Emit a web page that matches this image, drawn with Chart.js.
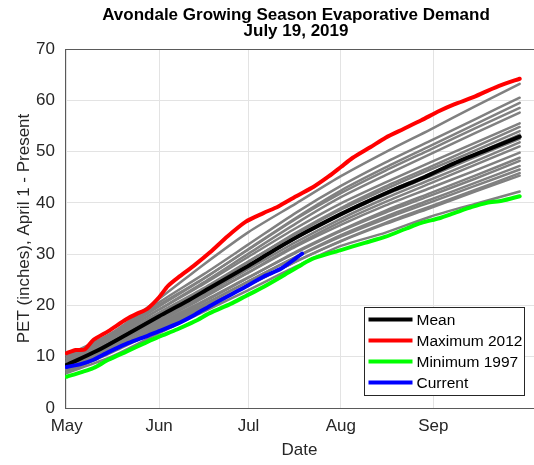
<!DOCTYPE html>
<html><head><meta charset="utf-8">
<script src="https://cdn.jsdelivr.net/npm/chart.js@4"></script>
<style>html,body{margin:0;padding:0;background:#fff;overflow:hidden}</style>
</head><body>
<canvas id="c" width="534" height="465" style="width:534px;height:465px"></canvas>
<script>
// ---- data (days counted from May 1) ----
const titleLines = ['Avondale Growing Season Evaporative Demand', 'July 19, 2019'];
const monthLabels = ['May', 'Jun', 'Jul', 'Aug', 'Sep'];
const monthDays = [0, 31, 61, 92, 123];
const yTickValues = [0, 10, 20, 30, 40, 50, 60, 70];

const meanDays = [0,10,20,31,40,48,60,70,80,92,100,110,120,130,140,152];
const meanValues = [8.4,11.1,14.3,17.9,20.7,23.4,27.4,30.9,34.2,37.8,40.0,42.6,45.0,47.7,50.1,52.9];

const maxDays = [0,3,6,9,14,20,24,27,31,34,38,43,48,54,60,66,71,77,83,88,92,96,102,107,113,119,125,130,136,141,146,152];
const maxValues = [10.7,11.3,11.4,13.3,15.0,17.3,18.5,19.3,21.6,23.8,25.7,27.9,30.3,33.5,36.3,38.0,39.3,41.3,43.2,45.2,47.0,48.8,50.9,52.7,54.4,56.1,57.9,59.2,60.5,61.8,63.0,64.2];

const minDays = [0,5,9,14,20,26,31,37,43,48,55,60,66,72,79,83,92,100,107,114,119,125,130,136,141,146,152];
const minValues = [6.1,7.0,7.8,9.4,11.0,12.6,13.9,15.3,16.9,18.5,20.3,21.8,23.6,25.6,28.0,29.2,30.8,32.2,33.4,35.0,36.1,37.0,38.0,39.2,40.0,40.4,41.3];

const currentDays = [0,5,9,14,20,26,31,37,43,49,58,66,72,79];
const currentValues = [8.0,8.6,9.4,10.9,12.5,13.8,15.0,16.4,18.2,20.2,23.0,25.6,27.2,30.1];

const otherYearDays = [0,15,31,46,61,77,92,107,122,137,152];
const otherYears = [
  [10.2,14.6,21.3,28.0,34.3,39.9,45.2,49.9,54.3,58.8,63.2],
  [9.8,14.3,20.6,26.1,31.9,38.1,43.3,47.9,52.1,56.3,60.5],
  [9.0,14.0,19.8,25.2,31.0,37.1,42.4,46.9,51.1,55.3,59.5],
  [9.6,14.4,20.1,25.3,30.9,36.9,41.9,46.3,50.4,54.5,58.5],
  [8.8,13.6,19.2,24.5,30.1,36.0,41.1,45.4,49.5,53.6,57.6],
  [9.3,13.9,19.2,24.2,29.5,35.1,39.9,44.0,47.9,51.7,55.5],
  [8.2,12.8,18.1,23.2,28.5,34.2,39.0,43.2,47.0,50.9,54.8],
  [9.0,13.4,18.6,23.4,28.6,34.0,38.7,42.7,46.5,50.2,54.0],
  [7.9,12.4,17.6,22.5,27.7,33.2,37.9,42.0,45.7,49.5,53.3],
  [8.6,12.9,18.0,22.7,27.7,33.1,37.6,41.6,45.2,48.9,52.5],
  [8.0,12.3,17.3,22.1,27.1,32.4,36.9,40.9,44.5,48.1,51.8],
  [7.6,11.9,16.9,21.5,26.5,31.8,36.3,40.2,43.8,47.4,51.0],
  [8.4,12.5,17.2,21.7,26.4,31.5,35.7,39.5,42.9,46.3,49.8],
  [7.4,11.5,16.2,20.7,25.4,30.5,34.7,38.5,41.9,45.3,48.8],
  [8.0,12.0,16.6,20.9,25.5,30.3,34.5,38.1,41.4,44.7,48.2],
  [7.2,11.2,15.8,20.1,24.7,29.5,33.7,37.3,40.6,43.9,47.2],
  [7.8,11.6,16.1,20.2,24.7,29.4,33.4,36.9,40.1,43.3,46.5],
  [7.0,10.8,15.3,19.4,23.9,28.6,32.6,36.1,39.3,42.5,45.8],
  [7.5,11.2,15.6,19.7,24.0,28.6,32.5,35.9,39.0,42.2,45.3],
  [6.8,10.0,14.6,18.8,23.0,27.6,31.6,34.2,37.3,39.8,42.2]
];

const legendLabels = ['Mean', 'Maximum 2012', 'Minimum 1997', 'Current'];

// ---- build datasets ----
const toPts = (xs, ys) => xs.map((x, i) => ({x: x, y: ys[i]}));
const FONT = '"Liberation Sans", Arial, Helvetica, sans-serif';
const datasets = [];
const mk = (label, xs, ys, color, width, order, legend) => ({
  label, data: toPts(xs, ys), borderColor: color, backgroundColor: color,
  borderWidth: width, pointRadius: 0, tension: 0.25, fill: false,
  order, showLegend: legend, borderCapStyle: 'round', borderJoinStyle: 'round'
});
datasets.push(mk(legendLabels[0], meanDays, meanValues, '#000000', 4, 1, true));
datasets.push(mk(legendLabels[1], maxDays, maxValues, '#ff0000', 4, 2, true));
datasets.push(mk(legendLabels[2], minDays, minValues, '#00ff00', 4, 3, true));
datasets.push(mk(legendLabels[3], currentDays, currentValues, '#0000ff', 4, 0, true));
otherYears.forEach((ys, i) => datasets.push(mk('year' + i, otherYearDays, ys, '#808080', 2.5, 10, false)));

const titlePlugin = {
  id: 'mTitle',
  afterDraw(chart) {
    const ctx = chart.ctx;
    ctx.save();
    ctx.fillStyle = '#000';
    ctx.font = 'bold 17px ' + FONT;
    ctx.textAlign = 'center';
    ctx.textBaseline = 'alphabetic';
    ctx.fillText(titleLines[0], 296, 19.5);
    ctx.fillText(titleLines[1], 296, 35.5);
    // top border of the box
    const ca = chart.chartArea;
    ctx.strokeStyle = '#5a5a5a';
    ctx.lineWidth = 1;
    ctx.beginPath();
    ctx.moveTo(ca.left, ca.top + 0.5);
    ctx.lineTo(ca.right, ca.top + 0.5);
    ctx.stroke();
    ctx.restore();
  }
};

const legendPlugin = {
  id: 'mLegend',
  afterDraw(chart) {
    const ctx = chart.ctx;
    const ca = chart.chartArea;
    const items = chart.data.datasets.filter(d => d.showLegend);
    const bx = ca.left + 299.5, by = ca.top + 258.5, bw = 160, bh = 88;
    ctx.save();
    ctx.fillStyle = '#fff';
    ctx.fillRect(bx, by, bw, bh);
    ctx.strokeStyle = '#262626';
    ctx.lineWidth = 1;
    ctx.strokeRect(bx, by, bw, bh);
    ctx.font = '15.5px ' + FONT;
    ctx.textBaseline = 'middle';
    ctx.textAlign = 'left';
    items.forEach((d, i) => {
      const y = by + 12 + i * 21;
      ctx.strokeStyle = d.borderColor;
      ctx.lineWidth = 4;
      ctx.lineCap = 'butt';
      ctx.beginPath();
      ctx.moveTo(bx + 4, y);
      ctx.lineTo(bx + 48, y);
      ctx.stroke();
      ctx.fillStyle = '#000';
      ctx.fillText(d.label, bx + 52, y + 1);
    });
    ctx.restore();
  }
};

new Chart(document.getElementById('c'), {
  type: 'line',
  data: { datasets },
  plugins: [titlePlugin, legendPlugin],
  options: {
    responsive: false,
    animation: false,
    layout: { padding: { top: 49, left: 0, right: 0, bottom: 0 } },
    plugins: { legend: { display: false }, tooltip: { enabled: false }, title: { display: false } },
    scales: {
      x: {
        type: 'linear', min: -0.57, max: 156.8,
        afterBuildTicks: s => { s.ticks = monthDays.map(v => ({ value: v })); },
        afterFit: s => { s.height = 57; },
        ticks: {
          autoSkip: false, maxRotation: 0, padding: 8,
          color: '#262626', font: { family: FONT, size: 17 },
          callback: v => monthLabels[monthDays.indexOf(v)]
        },
        grid: { color: '#e3e3e3', drawTicks: false, lineWidth: 1 },
        border: { color: '#5a5a5a', width: 1 },
        title: { display: true, text: 'Date', color: '#262626', font: { family: FONT, size: 17 }, padding: { top: 0, bottom: 4 } }
      },
      y: {
        min: 0, max: 70,
        afterBuildTicks: s => { s.ticks = yTickValues.map(v => ({ value: v })); },
        afterFit: s => { s.width = 65; },
        ticks: { padding: 10, color: '#262626', font: { family: FONT, size: 17 } },
        grid: { color: '#e3e3e3', drawTicks: false, lineWidth: 1 },
        border: { color: '#5a5a5a', width: 1 },
        title: { display: true, text: 'PET (inches), April 1 - Present', color: '#262626', font: { family: FONT, size: 17 }, padding: { top: 14, bottom: 0 } }
      }
    }
  }
});
</script>
</body></html>
